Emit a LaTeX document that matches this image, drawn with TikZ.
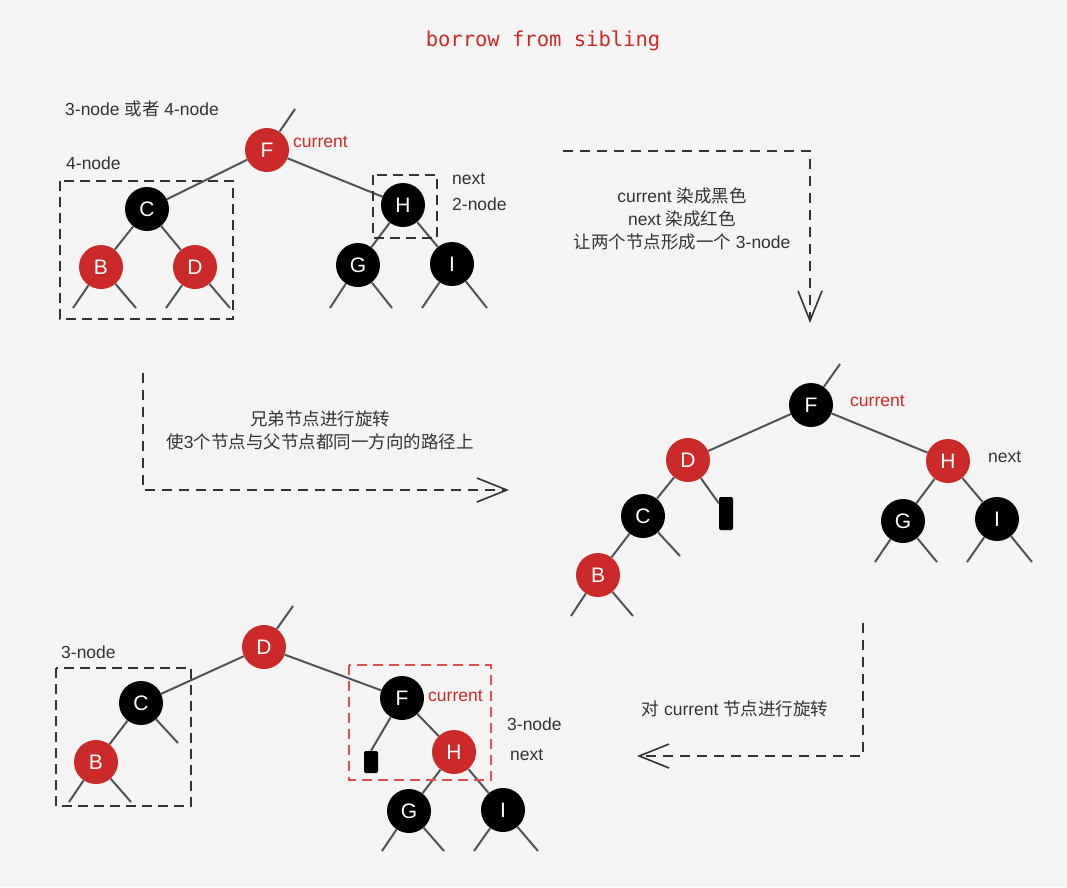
\documentclass[tikz,border=0pt]{standalone}
\usepackage{fontspec}
\setmainfont{Liberation Sans}
\newfontfamily\cjk{Noto Sans CJK SC}
\newfontfamily\monof{DejaVu Sans Mono}
\usetikzlibrary{arrows.meta}
\definecolor{rbred}{RGB}{204,41,41}
\definecolor{bgc}{RGB}{244,244,244}
\definecolor{edgec}{RGB}{80,84,90}
\definecolor{txt}{RGB}{51,51,51}
\definecolor{boxred}{RGB}{222,80,80}
\begin{document}
\begin{tikzpicture}[x=1pt,y=-1pt,
  rbnode/.style={circle,minimum size=44pt,inner sep=0pt,text=white,font=\fontsize{21}{21}\selectfont},
  rn/.style={rbnode,fill=rbred},
  bn/.style={rbnode,fill=black},
  nilbox/.style={fill=black,rounded corners=2pt,minimum width=14pt,inner sep=0pt},
  tedge/.style={draw=edgec,line width=2pt},
  lbl/.style={text=txt,font=\fontsize{17.5}{23}\selectfont,inner sep=0pt},
  rlbl/.style={lbl,text=rbred},
  grp/.style={draw=txt,line width=1.6pt,dash pattern=on 10pt off 6pt},
  grpred/.style={draw=boxred,line width=1.6pt,dash pattern=on 10pt off 6pt},
  flow/.style={draw=txt,line width=1.6pt,dash pattern=on 10pt off 7pt,-{Straight Barb[length=30pt,width=24pt]}}
]
\fill[bgc] (0,0) rectangle (1067,887);

% title
\node[text=rbred,font=\monof\fontsize{20.5}{24}\selectfont] (title) at (543,41) {borrow from sibling};

% ---------- tree 1 ----------
\node[rn] (F1) at (267,150) {F};
\node[bn] (C1) at (147,209) {C};
\node[rn] (B1) at (101,267) {B};
\node[rn] (D1) at (195,267) {D};
\node[bn] (H1) at (403,205) {H};
\node[bn] (G1) at (358,265) {G};
\node[bn] (I1) at (452,264) {I};
\coordinate (F1t) at (295,109);
\coordinate (B1a) at (73,308); \coordinate (B1b) at (136,308);
\coordinate (D1a) at (166,308); \coordinate (D1b) at (230,308);
\coordinate (G1a) at (330,308); \coordinate (G1b) at (392,308);
\coordinate (I1a) at (422,308); \coordinate (I1b) at (487,308);
\draw[tedge] (F1) -- (F1t);
\draw[tedge] (F1) -- (C1);
\draw[tedge] (F1) -- (H1);
\draw[tedge] (C1) -- (B1);
\draw[tedge] (C1) -- (D1);
\draw[tedge] (H1) -- (G1);
\draw[tedge] (H1) -- (I1);
\draw[tedge] (B1) -- (B1a); \draw[tedge] (B1) -- (B1b);
\draw[tedge] (D1) -- (D1a); \draw[tedge] (D1) -- (D1b);
\draw[tedge] (G1) -- (G1a); \draw[tedge] (G1) -- (G1b);
\draw[tedge] (I1) -- (I1a); \draw[tedge] (I1) -- (I1b);
\draw[grp] (60,181) rectangle (233,319);
\draw[grp] (373,175) rectangle (437,238);
\node[lbl,anchor=west] (l1) at (65,109) {3-node {\cjk 或者} 4-node};
\node[rlbl,anchor=west] (l2) at (293,142) {current};
\node[lbl,anchor=west] (l3) at (66,163) {4-node};
\node[lbl,anchor=west] (l4) at (452,179) {next};
\node[lbl,anchor=west] (l5) at (452,204) {2-node};

% ---------- tree 2 ----------
\node[bn] (F2) at (811,405) {F};
\node[rn] (D2) at (688,460) {D};
\node[rn] (H2) at (948,461) {H};
\node[bn] (C2) at (643,516) {C};
\node[nilbox,minimum height=33pt] (N2) at (726,513.5) {};
\node[rn] (B2) at (598,575) {B};
\node[bn] (G2) at (903,521) {G};
\node[bn] (I2) at (997,519) {I};
\coordinate (F2t) at (840,364);
\coordinate (C2r) at (680,556);
\coordinate (B2a) at (571,616); \coordinate (B2b) at (633,616);
\coordinate (G2a) at (875,562); \coordinate (G2b) at (937,562);
\coordinate (I2a) at (967,562); \coordinate (I2b) at (1032,562);
\draw[tedge] (F2) -- (F2t);
\draw[tedge] (F2) -- (D2);
\draw[tedge] (F2) -- (H2);
\draw[tedge] (D2) -- (C2);
\draw[tedge] (D2) -- (N2);
\draw[tedge] (C2) -- (B2);
\draw[tedge] (C2) -- (C2r);
\draw[tedge] (H2) -- (G2);
\draw[tedge] (H2) -- (I2);
\draw[tedge] (B2) -- (B2a); \draw[tedge] (B2) -- (B2b);
\draw[tedge] (G2) -- (G2a); \draw[tedge] (G2) -- (G2b);
\draw[tedge] (I2) -- (I2a); \draw[tedge] (I2) -- (I2b);
\node[rlbl,anchor=west] (m1) at (850,401) {current};
\node[lbl,anchor=west] (m2) at (988,457) {next};

% ---------- tree 3 ----------
\node[rn] (D3) at (264,647) {D};
\node[bn] (C3) at (141,703) {C};
\node[rn] (B3) at (96,762) {B};
\node[bn] (F3) at (402,698) {F};
\node[nilbox,minimum height=22pt] (N3) at (371,762) {};
\node[rn] (H3) at (454,752) {H};
\node[bn] (G3) at (409,811) {G};
\node[bn] (I3) at (503,810) {I};
\coordinate (D3t) at (293,606);
\coordinate (C3r) at (178,743);
\coordinate (B3a) at (69,802); \coordinate (B3b) at (131,802);
\coordinate (G3a) at (382,851); \coordinate (G3b) at (444,851);
\coordinate (I3a) at (474,851); \coordinate (I3b) at (538,851);
\draw[tedge] (D3) -- (D3t);
\draw[tedge] (D3) -- (C3);
\draw[tedge] (D3) -- (F3);
\draw[tedge] (C3) -- (B3);
\draw[tedge] (C3) -- (C3r);
\draw[tedge] (F3) -- (N3.north);
\draw[tedge] (F3) -- (H3);
\draw[tedge] (H3) -- (G3);
\draw[tedge] (H3) -- (I3);
\draw[tedge] (B3) -- (B3a); \draw[tedge] (B3) -- (B3b);
\draw[tedge] (G3) -- (G3a); \draw[tedge] (G3) -- (G3b);
\draw[tedge] (I3) -- (I3a); \draw[tedge] (I3) -- (I3b);
\draw[grp] (56,668) rectangle (191,806);
\draw[grpred] (349,665) rectangle (491,780);
\node[lbl,anchor=west] (b1) at (61,652) {3-node};
\node[rlbl,anchor=west] (b2) at (428,696) {current};
\node[lbl,anchor=west] (b3) at (507,724) {3-node};
\node[lbl,anchor=west] (b4) at (510,755) {next};

% ---------- flow arrows ----------
\coordinate (A1s) at (563,151); \coordinate (A1c) at (810,151); \coordinate (A1e) at (810,323);
\draw[flow] (A1s) -- (A1c) -- (A1e);
\node[lbl,align=center] (T1) at (682,219) {current {\cjk 染成黑色}\\next {\cjk 染成红色}\\{\cjk 让两个节点形成一个} 3-node};

\coordinate (A2s) at (143,373); \coordinate (A2c) at (143,490); \coordinate (A2e) at (509,490);
\draw[flow] (A2s) -- (A2c) -- (A2e);
\node[lbl,align=center] (T2) at (320,430) {{\cjk 兄弟节点进行旋转}\\{\cjk 使}3{\cjk 个节点与父节点都同一方向的路径上}};

\coordinate (A3s) at (863,623); \coordinate (A3c) at (863,756); \coordinate (A3e) at (637,756);
\draw[flow] (A3s) -- (A3c) -- (A3e);
\node[lbl] (T3) at (735,709) {{\cjk 对} current {\cjk 节点进行旋转}};
\end{tikzpicture}
\end{document}
